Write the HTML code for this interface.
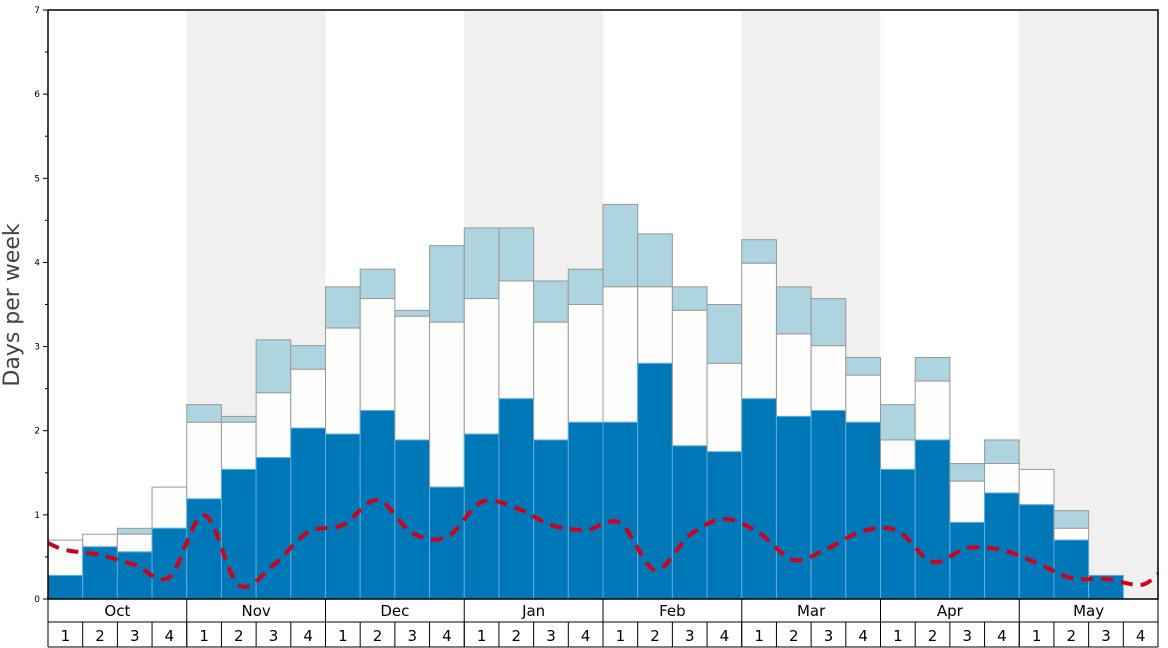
<!DOCTYPE html>
<html><head><meta charset="utf-8"><style>
body{margin:0;background:#fff;}
svg{display:block;font-family:"DejaVu Sans","Liberation Sans",sans-serif;}
</style></head><body>
<svg id="s" width="1168" height="648" xmlns="http://www.w3.org/2000/svg"></svg>
<script>
const s=document.getElementById('s');
const X0=48,X1=1158,Y0=599,Y7=10,W=(X1-X0)/32,U=(Y0-Y7)/7;
let h='';
const y=v=>Y0-v*U;
// bands
for(let m=1;m<8;m+=2){h+=`<rect x="${X0+m*4*W}" y="${Y7}" width="${4*W}" height="${Y0-Y7}" fill="#f0f0f0"/>`;}
const d=[[.28,.70,0],[.62,.77,0],[.56,.77,.84],[.84,1.33,0],[1.19,2.10,2.31],[1.54,2.10,2.17],[1.68,2.45,3.08],[2.03,2.73,3.01],
[1.96,3.22,3.71],[2.24,3.57,3.92],[1.89,3.36,3.43],[1.33,3.29,4.20],[1.96,3.57,4.41],[2.38,3.78,4.41],[1.89,3.29,3.78],[2.10,3.50,3.92],
[2.10,3.71,4.69],[2.80,3.71,4.34],[1.82,3.43,3.71],[1.75,2.80,3.50],[2.38,3.99,4.27],[2.17,3.15,3.71],[2.24,3.01,3.57],[2.10,2.66,2.87],
[1.54,1.89,2.31],[1.89,2.59,2.87],[.91,1.40,1.61],[1.26,1.61,1.89],[1.12,1.54,0],[.70,.84,1.05],[.28,.28,0],[0,0,0]];
d.forEach((b,i)=>{const x=X0+i*W;
 if(b[2]>b[1])h+=`<rect x="${x}" y="${y(b[2])}" width="${W}" height="${(b[2]-b[1])*U}" fill="#aed4e0" stroke="#999" stroke-width="1"/>`;
 if(b[1]>b[0])h+=`<rect x="${x}" y="${y(b[1])}" width="${W}" height="${(b[1]-b[0])*U}" fill="#fdfdfb" stroke="#999" stroke-width="1"/>`;
 if(b[0]>0)h+=`<rect x="${x}" y="${y(b[0])}" width="${W}" height="${b[0]*U}" fill="#0077b6" stroke="#5aaee0" stroke-width="1"/>`;
});
// red line
const ry=[550,555,565,577,515,585,565,532,525,500,533,537,502,508,525,530,523,570,535,519,533,560,548,531,531,562,548,550,563,578,579,585];
let pts=[[X0,543]];ry.forEach((v,i)=>pts.push([X0+(i+.5)*W,v]));pts.push([X1,574]);
let p=`M${pts[0][0]},${pts[0][1]}`;
for(let i=0;i<pts.length-1;i++){const a=pts[i-1]||pts[i],b=pts[i],c=pts[i+1],e=pts[i+2]||c;
 p+=` C${b[0]+(c[0]-a[0])/6},${b[1]+(c[1]-a[1])/6} ${c[0]-(e[0]-b[0])/6},${c[1]-(e[1]-b[1])/6} ${c[0]},${c[1]}`;}
h+=`<path d="${p}" fill="none" stroke="#d0021b" stroke-width="4" stroke-dasharray="12,8"/>`;
// axes
h+=`<rect x="${X0}" y="${Y7}" width="${X1-X0}" height="${Y0-Y7}" fill="none" stroke="#000" stroke-width="1.5"/>`;
for(let v=0;v<=7;v++){h+=`<line x1="${X0-5}" x2="${X0}" y1="${y(v)}" y2="${y(v)}" stroke="#000"/><text x="${X0-8}" y="${y(v)+3}" font-size="9" text-anchor="end">${v}</text>`;
 if(v<7)h+=`<line x1="${X0-3}" x2="${X0}" y1="${y(v+.5)}" y2="${y(v+.5)}" stroke="#000"/>`;}
h+=`<text transform="translate(19,305) rotate(-90)" font-size="22" fill="#444" text-anchor="middle">Days per week</text>`;
// bottom rows
h+=`<line x1="${X0}" x2="${X1}" y1="622" y2="622" stroke="#000"/><line x1="${X0}" x2="${X1}" y1="647" y2="647" stroke="#000"/>`;
const M=['Oct','Nov','Dec','Jan','Feb','Mar','Apr','May'];
M.forEach((m,i)=>{const x=X0+i*4*W;h+=`<line x1="${x}" x2="${x}" y1="599" y2="647" stroke="#000"/><text x="${x+2*W}" y="616" font-size="15" text-anchor="middle">${m}</text>`;
 for(let k=0;k<4;k++){const xx=x+k*W;h+=`<line x1="${xx}" x2="${xx}" y1="622" y2="647" stroke="#000"/><text x="${xx+W/2}" y="641" font-size="15" text-anchor="middle">${k+1}</text>`;}});
h+=`<line x1="${X1}" x2="${X1}" y1="599" y2="647" stroke="#000"/>`;
s.innerHTML=h;
</script>
</body></html>
